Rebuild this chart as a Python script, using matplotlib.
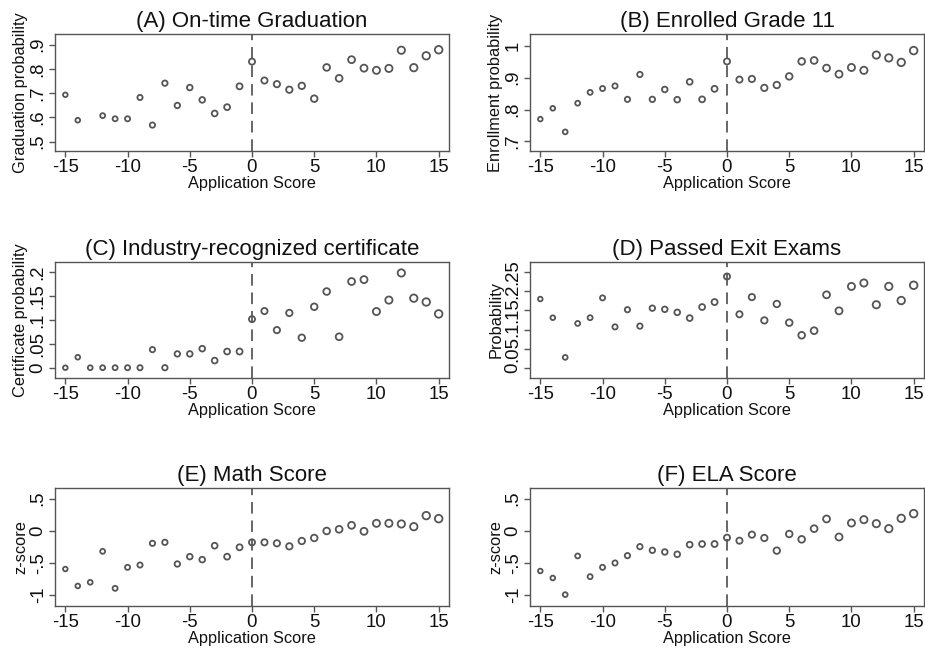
import numpy as np
import matplotlib
matplotlib.use("Agg")
import matplotlib.pyplot as plt
from matplotlib.ticker import FuncFormatter

plt.rcParams['font.family'] = ['Liberation Sans', 'DejaVu Sans']
plt.rcParams['axes.unicode_minus'] = False

scores = list(range(-15, 16))

# (A) on-time graduation, no point at -13
grad_x = [s for s in scores if s != -13]
grad_y = [0.693, 0.588, 0.607, 0.594, 0.594, 0.682, 0.568, 0.741, 0.649, 0.723,
          0.672, 0.616, 0.642, 0.728, 0.830, 0.752, 0.737, 0.714, 0.730, 0.677,
          0.806, 0.761, 0.838, 0.803, 0.794, 0.802, 0.877, 0.805, 0.854, 0.879]

enroll_y = [0.770, 0.804, 0.730, 0.820, 0.854, 0.866, 0.874, 0.832, 0.910, 0.832,
            0.863, 0.831, 0.887, 0.832, 0.865, 0.951, 0.894, 0.896, 0.868, 0.877,
            0.904, 0.951, 0.954, 0.930, 0.911, 0.932, 0.923, 0.971, 0.962, 0.948,
            0.985]

cert_y = [0.0, 0.022, 0.0, 0.0, 0.0, 0.0, 0.0, 0.038, 0.0, 0.029,
          0.029, 0.040, 0.015, 0.034, 0.034, 0.102, 0.119, 0.079, 0.115, 0.063,
          0.128, 0.160, 0.065, 0.181, 0.185, 0.118, 0.142, 0.199, 0.146, 0.138,
          0.113]

exit_y = [0.180, 0.131, 0.027, 0.116, 0.131, 0.183, 0.107, 0.152, 0.109, 0.156,
          0.153, 0.145, 0.130, 0.159, 0.172, 0.239, 0.140, 0.185, 0.124, 0.167,
          0.118, 0.085, 0.097, 0.191, 0.149, 0.213, 0.222, 0.165, 0.213, 0.176,
          0.216]

math_y = [-0.597, -0.861, -0.804, -0.322, -0.898, -0.571, -0.535, -0.197, -0.182, -0.519,
          -0.405, -0.451, -0.234, -0.405, -0.259, -0.182, -0.182, -0.197, -0.244, -0.161,
          -0.114, -0.005, 0.021, 0.083, -0.010, 0.114, 0.114, 0.104, 0.062, 0.234,
          0.187]

ela_y = [-0.628, -0.737, -0.996, -0.394, -0.716, -0.571, -0.503, -0.389, -0.249, -0.306,
         -0.332, -0.368, -0.218, -0.208, -0.208, -0.109, -0.156, -0.062, -0.114, -0.311,
         -0.052, -0.135, 0.031, 0.182, -0.099, 0.119, 0.171, 0.109, 0.031, 0.192,
         0.265]

panels = [
    ("(A) On-time Graduation", "Graduation probability", grad_x, grad_y,
     [0.5, 0.6, 0.7, 0.8, 0.9], (0.461, 0.944)),
    ("(B) Enrolled Grade 11", "Enrollment probability", scores, enroll_y,
     [0.7, 0.8, 0.9, 1.0], (0.670, 1.037)),
    ("(C) Industry-recognized certificate", "Certificate probability", scores, cert_y,
     [0, 0.05, 0.1, 0.15, 0.2], (-0.0216, 0.222)),
    ("(D) Passed Exit Exams", "Probability", scores, exit_y,
     [0, 0.05, 0.1, 0.15, 0.2, 0.25], (-0.027, 0.277)),
    ("(E) Math Score", "z-score", scores, math_y,
     [-1, -0.5, 0, 0.5], (-1.173, 0.664)),
    ("(F) ELA Score", "z-score", scores, ela_y,
     [-1, -0.5, 0, 0.5], (-1.173, 0.664)),
]


def stata_fmt(v, pos):
    s = f"{v:g}"
    if s.startswith("0."):
        s = s[1:]
    elif s.startswith("-0."):
        s = "-" + s[2:]
    return s


W, H = 925, 651
lefts = [55, 530]
rows = [(34, 151), (262, 378), (488, 606)]
grey = "#555555"

fig = plt.figure(figsize=(9.25, 6.51), dpi=100)
for i, (title, ylab, xs, ys, yt, ylim) in enumerate(panels):
    l = lefts[i % 2]
    top, bot = rows[i // 2]
    ax = fig.add_axes([l / W, 1 - bot / H, 394 / W, (bot - top) / H])
    xs = np.array(xs)
    diam = 4.6 + 0.1 * (xs + 15)  # marker diameter in px grows with score
    ax.scatter(xs, ys, s=(diam * 0.72) ** 2, facecolors="none",
               edgecolors=grey, linewidths=1.3, zorder=3)
    ax.axvline(0, color="#666666", lw=1.4, dashes=(6, 3.5), zorder=2)
    ax.set_xlim(-15.83, 15.83)
    ax.set_ylim(*ylim)
    ax.set_xticks([-15, -10, -5, 0, 5, 10, 15])
    ax.set_yticks(yt)
    ax.yaxis.set_major_formatter(FuncFormatter(stata_fmt))
    ax.tick_params(axis="both", colors=grey, labelcolor="#111111",
                   labelsize=13.4, length=4, width=1, pad=2)
    for lab in ax.get_yticklabels():
        lab.set_rotation(90)
        lab.set_va("center")
    for sp in ax.spines.values():
        sp.set_color(grey)
        sp.set_linewidth(1.0)
    ax.set_title(title, fontsize=16, pad=5, color="#111111")
    ax.set_xlabel("Application Score", fontsize=11.8, labelpad=0, color="#111111")
    ax.set_ylabel(ylab, fontsize=11.8, labelpad=1, color="#111111")

fig.savefig("out.png", dpi=100)
